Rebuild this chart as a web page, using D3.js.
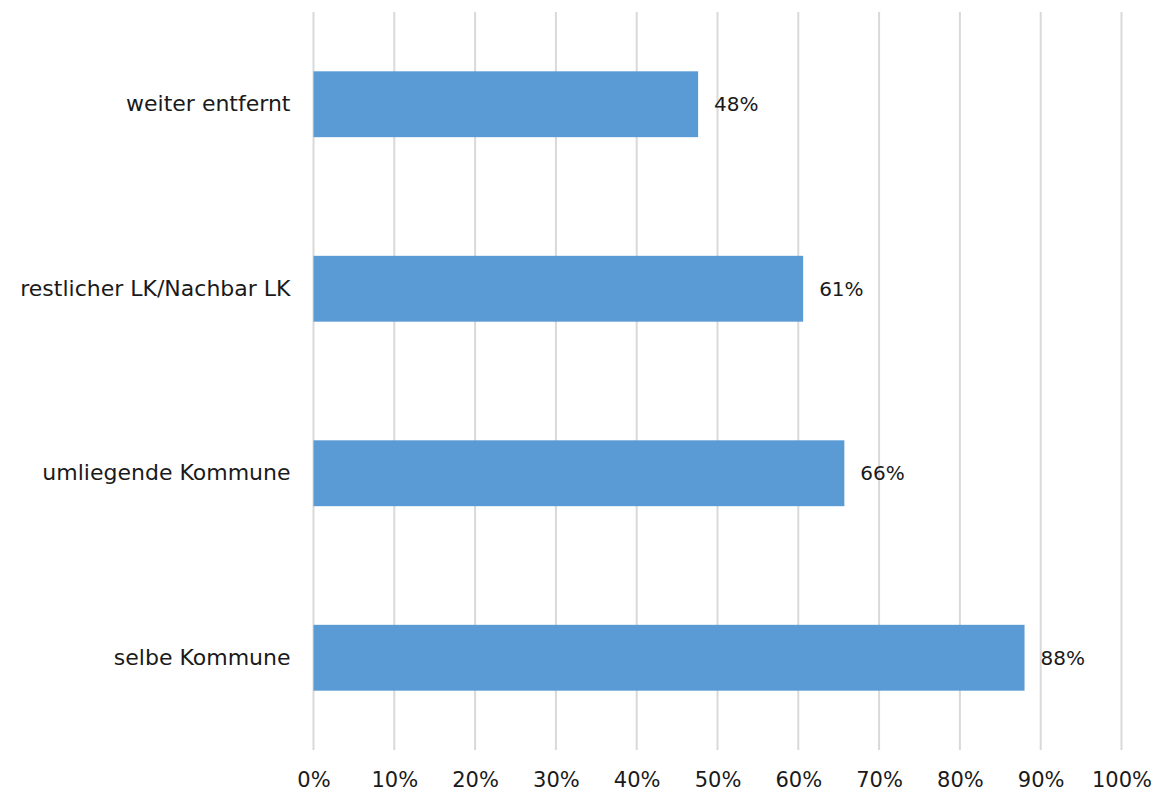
<!DOCTYPE html>
<html>
<head>
<meta charset="utf-8">
<script src="https://cdn.jsdelivr.net/npm/d3@7"></script>
<style>
  html, body { margin: 0; padding: 0; background: #fff; }
  svg text { font-family: "DejaVu Sans", "Noto Sans", sans-serif; fill: #1a1a1a; }
</style>
</head>
<body>
<svg id="chart" width="1157" height="795"></svg>
<script>
const categories = ["weiter entfernt", "restlicher LK/Nachbar LK", "umliegende Kommune", "selbe Kommune"];
const values = [47.6, 60.6, 65.7, 88.0];
const tickValues = [0, 10, 20, 30, 40, 50, 60, 70, 80, 90, 100];

const svg = d3.select("#chart");
const margin = { left: 313.5, right: 35.5, top: 12, bottom: 45 };
const W = 1157, H = 795;

const x = d3.scaleLinear().domain([0, 100]).range([margin.left, W - margin.right]);
const y = d3.scaleBand().domain(categories).range([margin.top, H - margin.bottom]).paddingInner(0.643).paddingOuter(0.3215);

// gridlines
svg.append("g").selectAll("line").data(tickValues).join("line")
  .attr("x1", d => x(d)).attr("x2", d => x(d))
  .attr("y1", margin.top).attr("y2", H - margin.bottom)
  .attr("stroke", "#d9d9d9").attr("stroke-width", 2);

// x axis labels
const xAxis = d3.axisBottom(x).tickValues(tickValues).tickFormat(d => d + "%").tickSize(0).tickPadding(0);
const gx = svg.append("g").attr("transform", `translate(0, ${H - margin.bottom})`).call(xAxis);
gx.select(".domain").remove();
gx.selectAll("text").attr("dy", null).attr("y", 37).style("font-size", "21px").attr("fill", "#1a1a1a");

// y axis labels
const yAxis = d3.axisLeft(y).tickSize(0).tickPadding(23);
const gy = svg.append("g").attr("transform", `translate(${margin.left}, 0)`).call(yAxis);
gy.select(".domain").remove();
gy.selectAll("text").style("font-size", "22px").attr("fill", "#1a1a1a");

// bars
svg.append("g").selectAll("rect").data(categories).join("rect")
  .attr("x", x(0))
  .attr("y", d => y(d))
  .attr("width", (d, i) => x(values[i]) - x(0))
  .attr("height", y.bandwidth())
  .attr("fill", "#5b9bd5");

// data labels
svg.append("g").selectAll("text").data(categories).join("text")
  .attr("x", (d, i) => x(values[i]) + 16)
  .attr("y", d => y(d) + y.bandwidth() / 2)
  .attr("dy", "0.35em")
  .style("font-size", "20px")
  .text((d, i) => Math.round(values[i]) + "%");
</script>
</body>
</html>
